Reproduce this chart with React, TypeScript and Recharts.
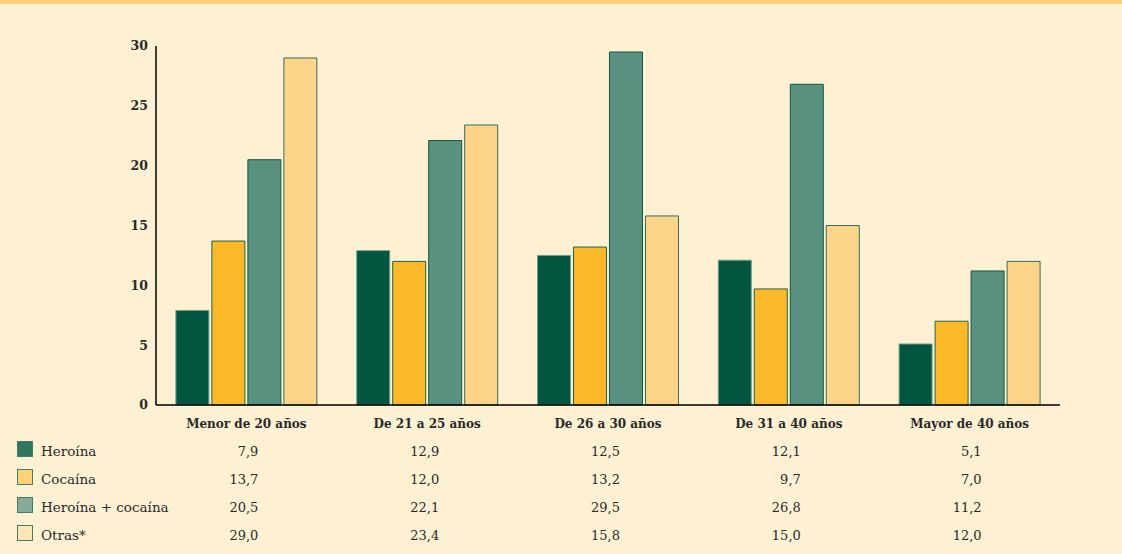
import React from 'react';
import { BarChart, Bar, XAxis, YAxis, Customized } from 'recharts';

const categories = ['Menor de 20 años', 'De 21 a 25 años', 'De 26 a 30 años', 'De 31 a 40 años', 'Mayor de 40 años'];
const heroina = [7.9, 12.9, 12.5, 12.1, 5.1];
const cocaina = [13.7, 12.0, 13.2, 9.7, 7.0];
const heroinaCocaina = [20.5, 22.1, 29.5, 26.8, 11.2];
const otras = [29.0, 23.4, 15.8, 15.0, 12.0];
const yTicks = [0, 5, 10, 15, 20, 25, 30];

const seriesNames = ['Heroína', 'Cocaína', 'Heroína + cocaína', 'Otras*'];
const seriesKeys = ['heroina', 'cocaina', 'heroinaCocaina', 'otras'];
const seriesValues = [heroina, cocaina, heroinaCocaina, otras];
const fills = ['#02553F', '#FBB829', '#5A9080', '#FED48B'];
const strokes = ['#6FA08E', '#1D6649', '#0F5A40', '#2F7058'];
const legendFills = ['#2F7560', '#FED27A', '#88A898', '#FEE5B5'];

const data = categories.map((c, i) => ({
  name: c,
  heroina: heroina[i],
  cocaina: cocaina[i],
  heroinaCocaina: heroinaCocaina[i],
  otras: otras[i],
}));

const FONT = '"DejaVu Serif", serif';
const rowY = [456, 484, 512, 540];

const fmt = (v: number) => v.toFixed(1).replace('.', ',');

const CategoryTick = (props: any) => {
  const { x, payload } = props;
  const i = payload.index;
  return (
    <g>
      <text x={x} y={428} textAnchor="middle" fontFamily={FONT} fontWeight="bold" fontSize={12} fill="#2a2a2a">
        {payload.value}
      </text>
      {seriesValues.map((arr, r) => (
        <text key={r} x={x + 12} y={rowY[r]} textAnchor="end" fontFamily={FONT} fontSize={13} fill="#2a2a2a">
          {fmt(arr[i])}
        </text>
      ))}
    </g>
  );
};

const LegendRows = () => (
  <g>
    {seriesNames.map((n, r) => (
      <g key={n}>
        <rect x={17.5} y={rowY[r] - 14.5} width={15} height={15} fill={legendFills[r]} stroke="#3E7D66" strokeWidth={1} />
        <text x={41} y={rowY[r]} fontFamily={FONT} fontSize={13.5} fill="#2a2a2a">{n}</text>
      </g>
    ))}
  </g>
);

export default function App() {
  return (
    <div style={{ position: 'fixed', left: 0, top: 0, width: 1122, height: 554, background: '#FEF0D2' }}>
      <div style={{ position: 'absolute', left: 0, top: 0, width: 1122, height: 4, background: '#FDD27D' }} />
      <BarChart
        width={1122}
        height={554}
        data={data}
        margin={{ top: 46, right: 62, left: 0, bottom: 0 }}
        barCategoryGap="11%"
        barGap={3}
      >
        <YAxis
          width={156}
          domain={[0, 30]}
          ticks={yTicks}
          axisLine={{ stroke: '#000', strokeWidth: 1.5 }}
          tickLine={false}
          tick={{ fontFamily: FONT, fontWeight: 'bold', fontSize: 12.5, fill: '#2a2a2a' }}
          tickMargin={2}
        />
        <XAxis
          dataKey="name"
          height={149}
          axisLine={{ stroke: '#000', strokeWidth: 1.5 }}
          tickLine={false}
          tick={<CategoryTick />}
          interval={0}
        />
        {seriesKeys.map((k, r) => (
          <Bar key={k} dataKey={k} fill={fills[r]} stroke={strokes[r]} strokeWidth={1} isAnimationActive={false} />
        ))}
        <Customized component={LegendRows} />
      </BarChart>
    </div>
  );
}
